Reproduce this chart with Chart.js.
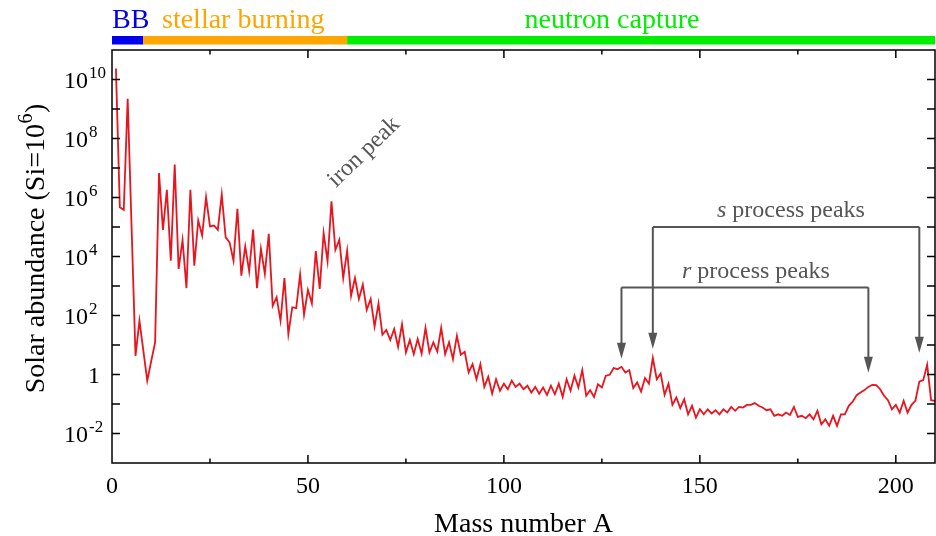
<!DOCTYPE html>
<html>
<head>
<meta charset="utf-8">
<title>Solar abundances</title>
<script src="https://cdn.jsdelivr.net/npm/chart.js@4.4.1/dist/chart.umd.min.js"></script>
<style>
  body { margin: 0; background: #fff; }
  canvas { display: block; }
</style>
</head>
<body>
<canvas id="abundance_Chart" width="936" height="536"></canvas>
<script>
// mass numbers (A = 5 and 8 have no stable nuclei, 232 lies outside the frame)
const massNumbers = [
  1, 2, 3, 4, 6, 7, 9, 10, 11, 12, 13, 14, 15, 16, 17, 18, 19, 20,
  21, 22, 23, 24, 25, 26, 27, 28, 29, 30, 31, 32, 33, 34, 35, 36, 37, 38, 39, 40,
  41, 42, 43, 44, 45, 46, 47, 48, 49, 50, 51, 52, 53, 54, 55, 56, 57, 58, 59, 60,
  61, 62, 63, 64, 65, 66, 67, 68, 69, 70, 71, 72, 73, 74, 75, 76, 77, 78, 79, 80,
  81, 82, 83, 84, 85, 86, 87, 88, 89, 90, 91, 92, 93, 94, 95, 96, 97, 98, 99, 100,
  101, 102, 103, 104, 105, 106, 107, 108, 109, 110, 111, 112, 113, 114, 115, 116, 117, 118, 119, 120,
  121, 122, 123, 124, 125, 126, 127, 128, 129, 130, 131, 132, 133, 134, 135, 136, 137, 138, 139, 140,
  141, 142, 143, 144, 145, 146, 147, 148, 149, 150, 151, 152, 153, 154, 155, 156, 157, 158, 159, 160,
  161, 162, 163, 164, 165, 166, 167, 168, 169, 170, 171, 172, 173, 174, 175, 176, 177, 178, 179, 180,
  181, 182, 183, 184, 185, 186, 187, 188, 189, 190, 191, 192, 193, 194, 195, 196, 197, 198, 199, 200,
  201, 202, 203, 204, 205, 206, 207, 208, 209, 232
];

// log10 of the solar abundance (Si = 10^6)
const abundanceExp = [
  10.37, 5.67, 5.58, 9.35, 0.63, 1.82, -0.21, 0.45, 1.09, 6.83, 4.9, 6.26, 3.86, 7.12, 3.58, 4.56, 2.93, 6.26,
  3.69, 5.22, 4.71, 6.01, 5.02, 5.05, 4.9, 6.1, 4.65, 4.48, 3.86, 5.62, 3.35, 4.34, 3.5, 4.91, 2.93, 4.26, 3.41, 4.77,
  2.33, 2.62, 1.82, 3.27, 1.37, 2.28, 2.25, 3.39, 2.03, 2.87, 2.41, 4.18, 2.9, 4.79, 3.84, 5.87, 4.23, 4.57, 3.27, 4.2,
  2.67, 3.27, 2.56, 3.05, 2.19, 2.56, 1.62, 2.41, 1.35, 1.51, 1.17, 1.54, 0.94, 1.7, 0.75, 1.17, 0.69, 1.2, 0.71, 1.58,
  0.75, 1.09, 0.78, 1.58, 0.69, 1.09, 0.52, 1.31, 0.67, 0.77, 0.07, 0.35, -0.16, 0.35, -0.42, -0.08, -0.65, -0.16, -0.55, -0.31,
  -0.5, -0.21, -0.42, -0.31, -0.5, -0.38, -0.61, -0.42, -0.65, -0.44, -0.69, -0.38, -0.67, -0.31, -0.76, -0.16, -0.55, -0.04, -0.44, 0.15,
  -0.72, -0.53, -0.76, -0.33, -0.44, -0.04, -0.01, 0.22, 0.18, 0.26, 0.07, 0.15, -0.46, -0.27, -0.58, -0.12, -0.31, 0.56, -0.16, 0.03,
  -0.69, -0.31, -1.03, -0.78, -1.14, -0.84, -1.35, -1.06, -1.46, -1.18, -1.35, -1.18, -1.32, -1.21, -1.35, -1.18, -1.29, -1.1, -1.23, -1.1,
  -1.12, -1.03, -1.03, -0.97, -1.06, -1.12, -1.21, -1.18, -1.4, -1.35, -1.4, -1.29, -1.37, -1.1, -1.44, -1.4, -1.48, -1.35, -1.52, -1.23,
  -1.69, -1.52, -1.74, -1.4, -1.74, -1.35, -1.35, -1.06, -0.92, -0.7, -0.61, -0.53, -0.42, -0.35, -0.36, -0.5, -0.72, -0.87, -1.18, -1.03,
  -1.29, -0.89, -1.29, -1.03, -0.89, -0.24, -0.19, 0.33, -0.87, -1.4
];

// tick labels
const xTickValues = [0, 50, 100, 150, 200];
const yTickExp = [10, 8, 6, 4, 2, 0, -2];

// nucleosynthesis regions along the top
const regionLabels = ['BB', 'stellar burning', 'neutron capture'];
const regionStart = [0, 8, 60];
const regionEnd = [8, 60, 210];
const regionColors = ['#0000ee', '#ffa500', '#00ee00'];

// annotation arrows: [mass number, log10 abundance of the arrow tip]
const rPeakA = [130, 193];
const rPeakTip = [0.53, 0.06];
const sPeakA = [138, 206];
const sPeakTip = [0.87, 0.74];

const serif = '"Liberation Serif", "Times New Roman", serif';
const grey = '#555555';

function arrowDown(ctx, x, yTop, yTip) {
    ctx.beginPath();
    ctx.moveTo(x, yTop);
    ctx.lineTo(x, yTip - 14);
    ctx.stroke();
    ctx.beginPath();
    ctx.moveTo(x - 4.5, yTip - 16);
    ctx.lineTo(x + 4.5, yTip - 16);
    ctx.lineTo(x, yTip);
    ctx.closePath();
    ctx.fill();
}

function bracket(ctx, xs, tips, yLine, xScale, yScale) {
    let x1 = xScale.getPixelForValue(xs[0]);
    let x2 = xScale.getPixelForValue(xs[1]);
    let yl = yScale.getPixelForValue(yLine);
    ctx.beginPath();
    ctx.moveTo(x1, yl);
    ctx.lineTo(x2, yl);
    ctx.stroke();
    arrowDown(ctx, x1, yl, yScale.getPixelForValue(10 ** tips[0]));
    arrowDown(ctx, x2, yl, yScale.getPixelForValue(10 ** tips[1]));
}

const framePlugin = {
    id: 'framePlugin',
    afterDraw(chart) {
        const ctx = chart.ctx;
        const area = chart.chartArea;
        const xs = chart.scales.x;
        const ys = chart.scales.y;
        ctx.save();

        // frame + inward ticks
        ctx.strokeStyle = '#000';
        ctx.lineWidth = 1.5;
        ctx.strokeRect(area.left, area.top, area.right - area.left, area.bottom - area.top);
        ctx.beginPath();
        for (let e = -2; e <= 10; e++) {
            let y = ys.getPixelForValue(10 ** e);
            ctx.moveTo(area.left, y); ctx.lineTo(area.left + 8, y);
            ctx.moveTo(area.right, y); ctx.lineTo(area.right - 8, y);
        }
        for (let v = 25; v <= 200; v += 25) {
            let x = xs.getPixelForValue(v);
            let len = (v % 50 === 0) ? 8 : 4.5;
            ctx.moveTo(x, area.bottom); ctx.lineTo(x, area.bottom - len);
            ctx.moveTo(x, area.top); ctx.lineTo(x, area.top + len);
        }
        ctx.stroke();

        // tick labels
        ctx.fillStyle = '#000';
        ctx.textBaseline = 'alphabetic';
        ctx.font = '24px ' + serif;
        ctx.textAlign = 'center';
        xTickValues.forEach(v => {
            ctx.fillText(String(v), xs.getPixelForValue(v), 493);
        });
        yTickExp.forEach(e => {
            let y = ys.getPixelForValue(10 ** e) + 8;
            ctx.font = '24px ' + serif;
            ctx.textAlign = 'right';
            if (e === 0) {
                ctx.fillText('1', 100, y);
                return;
            }
            ctx.fillText('10', 88, y);
            ctx.font = '17px ' + serif;
            ctx.textAlign = 'left';
            ctx.fillText(String(e), 89, y - 10);
        });

        // axis titles
        ctx.font = '28px ' + serif;
        ctx.textAlign = 'center';
        ctx.fillText('Mass number A', (area.left + area.right) / 2, 532);

        ctx.save();
        ctx.translate(44, 249);
        ctx.rotate(-Math.PI / 2);
        ctx.textAlign = 'left';
        let p1 = 'Solar abundance (Si=10';
        ctx.font = '28px ' + serif;
        let w1 = ctx.measureText(p1).width;
        let w3 = ctx.measureText(')').width;
        ctx.font = '20px ' + serif;
        let w2 = ctx.measureText('6').width;
        let x0 = -(w1 + w2 + w3) / 2;
        ctx.font = '28px ' + serif;
        ctx.fillText(p1, x0, 0);
        ctx.fillText(')', x0 + w1 + w2 + 1, 0);
        ctx.font = '20px ' + serif;
        ctx.fillText('6', x0 + w1 + 0.5, -12);
        ctx.restore();

        // region bar on top
        regionLabels.forEach((lab, i) => {
            let xa = xs.getPixelForValue(regionStart[i]);
            let xb = Math.min(xs.getPixelForValue(regionEnd[i]), area.right);
            ctx.fillStyle = regionColors[i];
            ctx.fillRect(xa, 36, xb - xa, 8.5);
        });
        ctx.font = '28px ' + serif;
        ctx.textAlign = 'left';
        ctx.fillStyle = regionColors[0];
        ctx.fillText(regionLabels[0], 112, 28);
        ctx.fillStyle = regionColors[1];
        ctx.fillText(regionLabels[1], 162, 28);
        ctx.fillStyle = regionColors[2];
        ctx.textAlign = 'center';
        ctx.fillText(regionLabels[2], 612, 28);

        // annotations
        ctx.fillStyle = grey;
        ctx.strokeStyle = grey;
        ctx.lineWidth = 2;
        ctx.save();
        ctx.translate(336, 188);
        ctx.rotate(-44 * Math.PI / 180);
        ctx.font = '24px ' + serif;
        ctx.textAlign = 'left';
        ctx.fillText('iron peak', 0, 0);
        ctx.restore();

        bracket(ctx, sPeakA, sPeakTip, 1e5, xs, ys);
        bracket(ctx, rPeakA, rPeakTip, 10 ** 2.95, xs, ys);

        ctx.textAlign = 'left';
        ctx.font = 'italic 24px ' + serif;
        ctx.fillText('s', 717, 217);
        let ws = ctx.measureText('s ').width;
        ctx.font = '24px ' + serif;
        ctx.fillText(' process peaks', 717 + ctx.measureText('s').width * 0 + ws - ctx.measureText(' ').width, 217);
        ctx.font = 'italic 24px ' + serif;
        ctx.fillText('r', 682, 278);
        let wr = ctx.measureText('r').width;
        ctx.font = '24px ' + serif;
        ctx.fillText(' process peaks', 682 + wr, 278);

        ctx.restore();
    }
};

const abundance_Chart = document.querySelector('#abundance_Chart');

new Chart(abundance_Chart, {
    type: 'line',
    data: {
        datasets: [{
            label: 'Solar abundance',
            data: massNumbers.map((a, i) => ({ x: a, y: 10 ** abundanceExp[i] })),
            borderColor: '#e8141e',
            borderWidth: 1.8,
            pointRadius: 0,
            tension: 0,
            fill: false
        }]
    },
    options: {
        responsive: false,
        animation: false,
        devicePixelRatio: 1,
        layout: {
            padding: { left: 112, top: 50, right: 1, bottom: 73 }
        },
        scales: {
            x: { type: 'linear', min: 0, max: 210, display: false },
            y: { type: 'logarithmic', min: 1e-3, max: 1e11, display: false }
        },
        plugins: {
            legend: { display: false },
            tooltip: { enabled: false }
        }
    },
    plugins: [framePlugin]
});
</script>
</body>
</html>
